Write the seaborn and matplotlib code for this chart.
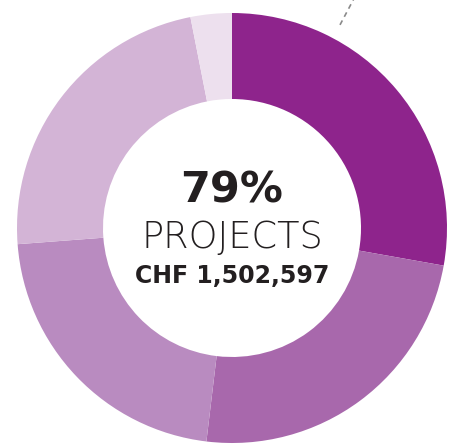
import matplotlib.pyplot as plt
import numpy as np
import seaborn as sns

# slice shares, clockwise from 12 o'clock
shares = [27.8, 24.1, 21.9, 23.1, 3.1]
colors = ['#8e248c', '#a868ac', '#b98bc0', '#d3b4d6', '#ede0ee']
headline = '79%'
label = 'PROJECTS'
amount = 'CHF 1,502,597'
leader_angle = 28  # degrees clockwise from top

sns.set_theme(style='white')
plt.rcParams['font.family'] = ['DejaVu Sans']

fig = plt.figure(figsize=(4.5, 4.44), dpi=100)
ax = fig.add_axes([0, 0, 1, 1])

ax.pie(shares, colors=colors, startangle=90, counterclock=False,
       radius=1, wedgeprops={'width': 0.4, 'linewidth': 0})

# dashed leader line leaving the ring
t = np.deg2rad(90 - leader_angle)
r = np.array([1.07, 1.25])
ax.plot(r * np.cos(t), r * np.sin(t), ls=(0, (3, 2.5)), color='#8a8a8a', lw=1.2)

ax.text(0, 0.175, headline, ha='center', va='center', fontsize=31,
        fontweight='bold', color='#231f20')
ax.text(0, -0.04, label, ha='center', va='center', fontsize=26.5,
        fontweight='light', color='#231f20')
ax.text(0, -0.225, amount, ha='center', va='center', fontsize=17,
        fontweight='bold', color='#231f20')

ax.set_xlim(-232 / 215, 218 / 215)
ax.set_ylim(-216 / 215, 228 / 215)
ax.set_aspect('equal')
ax.axis('off')

fig.savefig('out.png', dpi=100)
